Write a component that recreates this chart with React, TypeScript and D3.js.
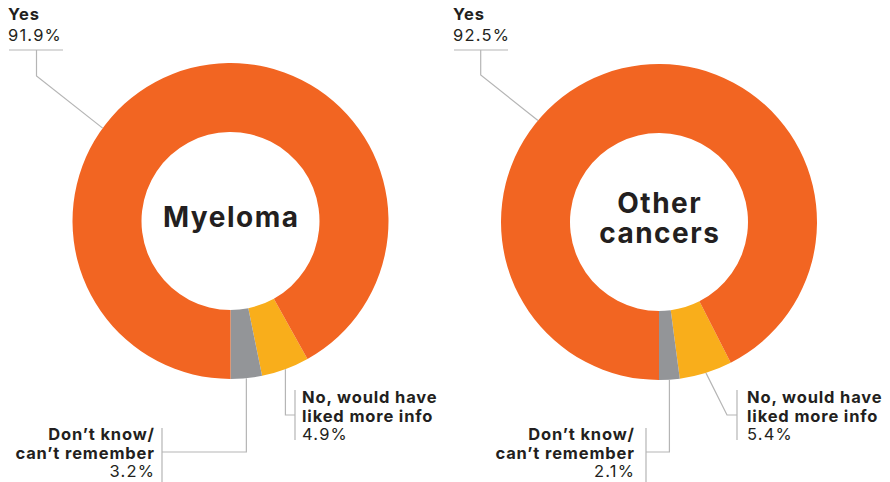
import React from "react";
import * as d3 from "d3";

const categories = ["Yes", "No, would have liked more info", "Don’t know/can’t remember"];
const groups = ["Myeloma", "Other cancers"];
const myelomaValues = [91.9, 4.9, 3.2];
const otherValues = [92.5, 5.4, 2.1];
const colors = ["#F26522", "#F9AE1B", "#939598"];

const W = 890;
const H = 482;
const FONT = "Inter, 'Noto Sans', sans-serif";
const TEXT = "#231F20";
const LINE = "#B5B5B5";

const layouts = [
  {
    cx: 230.5, cy: 221,
    centerLines: ["Myeloma"], centerBase: [227],
    yes: { x: 8, ux2: 63, ex: 36.5, ey: 76, angle: -54 },
    no: { x: 302, bar: 295, kind: "vertical", knee: [0, 415] },
    dk: { x: 154, bar: 162, kneeY: 452 },
  },
  {
    cx: 659, cy: 222,
    centerLines: ["Other", "cancers"], centerBase: [213, 243],
    yes: { x: 453, ux2: 508, ex: 480.7, ey: 75, angle: -50 },
    no: { x: 747, bar: 737, kind: "diag", knee: [727, 415] },
    dk: { x: 634, bar: 646, kneeY: 452 },
  },
];

const R_OUT = 158;
const R_IN = 89;
const BOLD_LS = 0.85;
const REG_LS = 1.2;

function Donut({ values, layout }: any) {
  const { cx, cy } = layout;
  const ordered = [
    { cat: 1, v: values[1] },
    { cat: 2, v: values[2] },
    { cat: 0, v: values[0] },
  ];
  const total = d3.sum(values);
  const start = Math.PI - ((values[1] + values[2]) / total) * 2 * Math.PI;
  const pie = d3
    .pie<any>()
    .sort(null)
    .value((d: any) => d.v)
    .startAngle(start)
    .endAngle(start + 2 * Math.PI);
  const arcs = pie(ordered);
  const arc = d3.arc<any>().innerRadius(R_IN).outerRadius(R_OUT);
  const pt = (a: number, r: number) => [cx + r * Math.sin(a), cy - r * Math.cos(a)];

  const noArc = arcs[0];
  const dkArc = arcs[1];
  const noMid = (noArc.startAngle + noArc.endAngle) / 2;
  const dkMid = (dkArc.startAngle + dkArc.endAngle) / 2;
  const noP = pt(noMid, R_OUT);
  const dkP = pt(dkMid, R_OUT);
  const yesP = pt((layout.yes.angle * Math.PI) / 180, R_OUT);

  const noKnee =
    layout.no.kind === "vertical" ? [noP[0], layout.no.knee[1]] : layout.no.knee;

  const fmt = (v: number) => `${v.toFixed(1)}%`;
  const labelSize = 16.5;
  const bold = { fontFamily: FONT, fontWeight: 700, fontSize: labelSize, fill: TEXT, letterSpacing: BOLD_LS };
  const reg = { fontFamily: FONT, fontWeight: 400, fontSize: labelSize, fill: TEXT, letterSpacing: REG_LS };

  return (
    <g>
      <g transform={`translate(${cx},${cy})`}>
        {arcs.map((a: any, i: number) => (
          <path key={i} d={arc(a) as string} fill={colors[a.data.cat]} />
        ))}
      </g>
      {layout.centerLines.map((t: string, i: number) => (
        <text
          key={i}
          x={cx + 0.75}
          y={layout.centerBase[i]}
          textAnchor="middle"
          fontFamily={FONT}
          fontWeight={700}
          fontSize={28}
          letterSpacing={1.5}
          fill={TEXT}
        >
          {t}
        </text>
      ))}

      {/* Yes label */}
      <text x={layout.yes.x} y={20} {...bold}>
        {categories[0]}
      </text>
      <text x={layout.yes.x} y={41} {...reg}>
        {fmt(values[0])}
      </text>
      <line x1={layout.yes.x + 1} x2={layout.yes.ux2} y1={50} y2={50} stroke={LINE} strokeWidth={1.2} />
      <polyline
        points={`${layout.yes.ex},50 ${layout.yes.ex},${layout.yes.ey} ${yesP[0]},${yesP[1]}`}
        fill="none"
        stroke={LINE}
        strokeWidth={1.2}
      />

      {/* No label */}
      <polyline
        points={`${noP[0]},${noP[1]} ${noKnee[0]},${noKnee[1]} ${layout.no.bar},${noKnee[1]}`}
        fill="none"
        stroke={LINE}
        strokeWidth={1.2}
      />
      <line x1={layout.no.bar} x2={layout.no.bar} y1={390} y2={440} stroke={LINE} strokeWidth={1.2} />
      <text x={layout.no.x} y={403} {...bold}>
        No, would have
      </text>
      <text x={layout.no.x} y={422} {...bold}>
        liked more info
      </text>
      <text x={layout.no.x} y={440} {...reg}>
        {fmt(values[1])}
      </text>

      {/* Don't know label */}
      <polyline
        points={`${dkP[0]},${dkP[1]} ${dkP[0]},${layout.dk.kneeY} ${layout.dk.bar},${layout.dk.kneeY}`}
        fill="none"
        stroke={LINE}
        strokeWidth={1.2}
      />
      <line x1={layout.dk.bar} x2={layout.dk.bar} y1={428} y2={H} stroke={LINE} strokeWidth={1.2} />
      <text x={layout.dk.x + BOLD_LS} y={440} textAnchor="end" {...bold}>
        Don’t know/
      </text>
      <text x={layout.dk.x + BOLD_LS} y={459} textAnchor="end" {...bold}>
        can’t remember
      </text>
      <text x={layout.dk.x + REG_LS} y={477} textAnchor="end" {...reg}>
        {fmt(values[2])}
      </text>
    </g>
  );
}

export default function App() {
  const series = [myelomaValues, otherValues];
  return (
    <svg
      width={W}
      height={H}
      viewBox={`0 0 ${W} ${H}`}
      style={{ position: "absolute", left: 0, top: 0, background: "#fff" }}
    >
      {groups.map((g, i) => (
        <Donut key={g} values={series[i]} layout={layouts[i]} />
      ))}
    </svg>
  );
}
